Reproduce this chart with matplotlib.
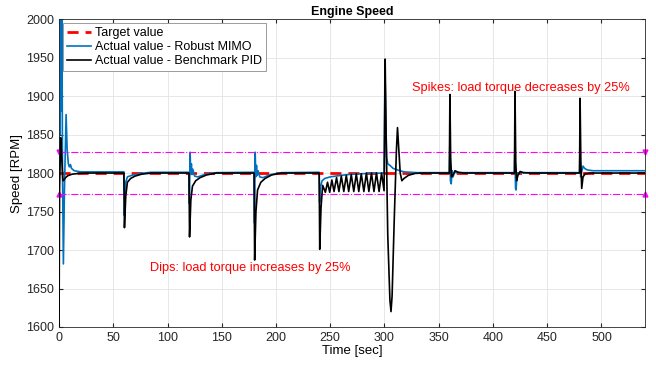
import numpy as np
import matplotlib.pyplot as plt

plt.rcParams['font.family'] = ['Liberation Sans', 'DejaVu Sans']

# target speed and tolerance band [RPM]
t_target = [0, 540]
y_target = [1800, 1800]
band_hi = 1827
band_lo = 1773

# Robust MIMO response (time [s], speed [RPM])
t_mimo = [0, 0.3, 0.7, 1.1, 1.5, 1.9, 2.3, 2.7, 3.2, 4.0, 5.0, 6.5, 7.5, 8.6, 9.5, 10.5, 11.5, 14, 20, 59.8,
          60.2, 60.8, 61.5, 63, 67, 75, 85, 119.8,
          120.2, 120.8, 121.4, 122, 122.6, 123.3, 125, 128, 135, 145, 179.8,
          180.2, 180.8, 181.4, 182, 182.6, 183.5, 185, 188, 195, 205, 239.8,
          240.2, 241, 242.5, 245, 250, 260, 270, 285, 299.8,
          300.4, 301.3, 302, 303, 305, 308, 312, 318, 330, 359.8,
          360.2, 360.8, 361.5, 362.3, 363.2, 364.5, 367, 419.8,
          420.2, 420.8, 421.3, 422.2, 423.5, 426, 479.8,
          480.2, 480.8, 481.5, 483, 484.5, 487, 492, 500, 540]
y_mimo = [1600, 2050, 1850, 2050, 1880, 2050, 1900, 2000, 1800, 1682, 1780, 1876, 1830, 1812, 1808, 1811, 1806, 1803, 1801.5, 1801.5,
          1745, 1765, 1788, 1795, 1797, 1799.5, 1801, 1801,
          1760, 1827, 1800, 1812, 1798, 1805, 1796, 1795, 1798.5, 1800.5, 1801,
          1735, 1827, 1795, 1810, 1797, 1803, 1795, 1794, 1798, 1800.5, 1801,
          1762, 1782, 1790, 1793, 1795, 1797, 1798.5, 1799.5, 1800,
          1940, 1860, 1820, 1812, 1810, 1806, 1804, 1801.5, 1800.5, 1800.5,
          1835, 1790, 1786, 1803, 1795, 1801, 1800.5, 1800.5,
          1835, 1780, 1778, 1800, 1799, 1800.5, 1800.5,
          1830, 1795, 1800, 1809, 1806, 1804, 1803, 1803, 1803]

# Benchmark PID response
t_pid = [0, 0.5, 1.5, 2.5, 3.5, 4, 6, 8, 12, 18, 25, 59.8,
         60.3, 61.5, 63, 66, 70, 76, 85, 119.8,
         120.3, 121.5, 123, 126, 130, 136, 145, 179.8,
         180.3, 181.5, 183, 186, 190, 196, 205, 239.8,
         240.3, 241.5, 243, 245.5, 247.5, 249.5, 251.5, 253.5, 255.8, 258, 260.2, 262.5, 264.8, 267,
         269.4, 271.7, 274, 276.3, 278.6, 281, 283.3, 285.6, 288, 290.3, 292.6, 295, 297.3, 299.6,
         300.6, 301.5, 303, 305, 306, 307, 309, 311, 312, 313, 314.5, 316, 318, 322, 328, 335, 359.8,
         360.3, 361, 361.8, 363, 365, 368, 373, 419.8,
         420.3, 421, 421.8, 423, 425, 428, 435, 479.8,
         480.3, 481, 481.8, 483, 485, 490, 540]
y_pid = [1600, 1780, 1846, 1820, 1791, 1790, 1794, 1796.5, 1798.5, 1799.5, 1800, 1800,
         1729, 1770, 1788, 1793, 1796, 1798.5, 1800, 1800,
         1717, 1765, 1783, 1790, 1794, 1797.5, 1800, 1800,
         1687, 1750, 1778, 1788, 1793, 1797.5, 1800, 1800,
         1701, 1755, 1784, 1775, 1788, 1775, 1791, 1776, 1794, 1776, 1796, 1776, 1797, 1776,
         1798, 1776, 1799, 1776, 1799, 1776, 1800, 1776, 1800, 1776, 1800, 1776, 1800, 1777,
         1948, 1850, 1720, 1635, 1620, 1640, 1740, 1830, 1859, 1835, 1800, 1790, 1793, 1797, 1799.5, 1800, 1800,
         1902, 1820, 1795, 1797, 1803, 1801, 1800, 1800,
         1906, 1815, 1790, 1797, 1802, 1800.5, 1800, 1800,
         1897, 1815, 1780, 1795, 1799, 1800, 1800]

fig = plt.figure(figsize=(6.56, 3.67), dpi=100)
ax = fig.add_axes([0.09, 0.109, 0.893, 0.839])

ax.plot(t_target, y_target, color='r', linestyle='--', dashes=(4, 2.5), linewidth=2,
        label='Target value', zorder=1.5)
ax.plot(t_mimo, y_mimo, color='#0072BD', linewidth=1.2, label='Actual value - Robust MIMO', zorder=2)
ax.plot(t_pid, y_pid, color='black', linewidth=1.2, label='Actual value - Benchmark PID', zorder=3)

ax.plot([0, 540], [band_hi, band_hi], color='magenta', linestyle='-.', linewidth=0.8,
        marker='v', markersize=3.5, clip_on=False, zorder=2.5)
ax.plot([0, 540], [band_lo, band_lo], color='magenta', linestyle='-.', linewidth=0.8,
        marker='^', markersize=3.5, clip_on=False, zorder=2.5)

ax.text(426, 1910, 'Spikes: load torque decreases by 25%', color='red', fontsize=9.2, ha='center', va='center')
ax.text(176, 1677, 'Dips: load torque increases by 25%', color='red', fontsize=9.2, ha='center', va='center')

ax.set_xlim(0, 540)
ax.set_ylim(1600, 2000)
ax.set_xticks(np.arange(0, 501, 50))
ax.set_yticks(np.arange(1600, 2001, 50))
ax.grid(True, color='#e3e3e3', linewidth=0.6)
ax.set_axisbelow(True)
ax.tick_params(direction='in', top=True, right=True, labelsize=9, length=3,
               color='#262626', labelcolor='#262626')
for s in ax.spines.values():
    s.set_color('#262626')
    s.set_linewidth(0.6)

ax.set_title('Engine Speed', fontsize=9, fontweight='bold', pad=3)
ax.set_xlabel('Time [sec]', fontsize=9.5, labelpad=1)
ax.set_ylabel('Speed [RPM]', fontsize=9.5, labelpad=2)

leg = ax.legend(loc='upper left', fontsize=9, fancybox=False, framealpha=1, edgecolor='#8c8c8c',
                handlelength=1.9, borderpad=0.35, labelspacing=0.15, handletextpad=0.3,
                borderaxespad=0.3)
leg.get_frame().set_linewidth(0.6)

fig.savefig('out.png', dpi=100)
